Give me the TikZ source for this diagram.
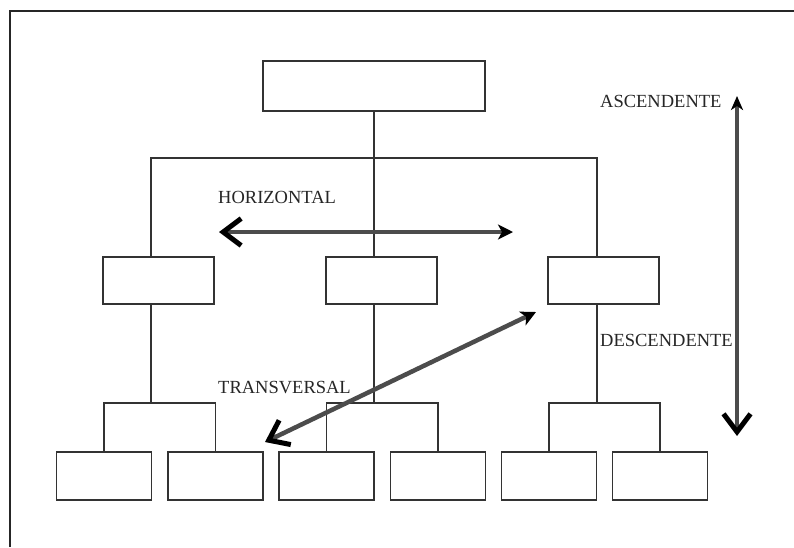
\documentclass[tikz,border=0pt]{standalone}
\usepackage{fontspec}
\setmainfont{Liberation Serif}
\usetikzlibrary{arrows.meta}
\tikzset{
  mybarb/.tip={Straight Barb[length=18pt, width=27pt, line width=5pt, color=black]},
  mytip/.tip={Stealth[length=15pt, width=15pt, inset=4pt, color=black]},
  mytipv/.tip={Stealth[length=14pt, width=12pt, inset=4pt, color=black]}
}
\begin{document}
\begin{tikzpicture}[x=1pt,y=-1pt,
  box/.style={draw=black!80, line width=1.3pt, fill=white, inner sep=0pt},
  mbox/.style={box, minimum width=111pt, minimum height=47pt},
  bbox/.style={box, minimum width=95pt, minimum height=48pt},
  tree/.style={draw=black!80, line width=1.3pt},
  lbl/.style={font=\fontsize{18.5}{20}\selectfont, anchor=west, inner sep=0pt, text=black!85},
  arr/.style={draw=black!70, line width=4.5pt}
]
\useasboundingbox (0,0) rectangle (794,547);
\fill[white] (0,0) rectangle (794,547);
% open frame
\coordinate (fTL) at (9.5,11);
\coordinate (fTR) at (794,11);
\coordinate (fBL) at (9.5,547);
\draw[black!85, line width=2pt] (fBL) -- (fTL) -- (fTR);

% boxes
\node[box, minimum width=222pt, minimum height=50pt] (top) at (374,86) {};
\node[mbox] (mL) at (158.5,280.5) {};
\node[mbox] (mC) at (381.5,280.5) {};
\node[mbox] (mR) at (603.5,280.5) {};
\node[bbox] (b1) at (104,476) {};
\node[bbox] (b2) at (215.5,476) {};
\node[bbox] (b3) at (326.5,476) {};
\node[bbox] (b4) at (438,476) {};
\node[bbox] (b5) at (549,476) {};
\node[bbox] (b6) at (660,476) {};

% tree connectors
\coordinate (jL) at (151,158);
\coordinate (jC) at (374,158);
\coordinate (jR) at (597,158);
\coordinate (kL) at (151,403);
\coordinate (kC) at (374,403);
\coordinate (kR) at (597,403);
\draw[tree] (top.south) -- (top.south |- mC.north);
\draw[tree] (mL.north -| jL) -- (jL) -- (jR) -- (mR.north -| jR);
\draw[tree] (mL.south -| kL) -- (kL);
\draw[tree] (mC.south -| kC) -- (kC);
\draw[tree] (mR.south -| kR) -- (kR);
\draw[tree] (b1.north) -- (b1.north |- kL) -- (b2.north |- kL) -- (b2.north);
\draw[tree] (b3.north) -- (b3.north |- kC) -- (b4.north |- kC) -- (b4.north);
\draw[tree] (b5.north) -- (b5.north |- kR) -- (b6.north |- kR) -- (b6.north);

% labels
\node[lbl] (tH) at (218,197) {HORIZONTAL};
\node[lbl] (tT) at (218,388) {TRANSVERSAL};
\node[lbl] (tA) at (600,101) {ASCENDENTE};
\node[lbl] (tD) at (600,340) {DESCENDENTE};

% arrows
\coordinate (h1) at (219,232);
\coordinate (h2) at (513,232);
\draw[arr, mybarb-mytip] (h1) -- (h2);
\coordinate (t1) at (265,442);
\coordinate (t2) at (536,312);
\draw[arr, mybarb-mytip] (t1) -- (t2);
\coordinate (v1) at (737,436);
\coordinate (v2) at (737,96);
\draw[arr, mybarb-mytipv] (v1) -- (v2);
\end{tikzpicture}
\end{document}
